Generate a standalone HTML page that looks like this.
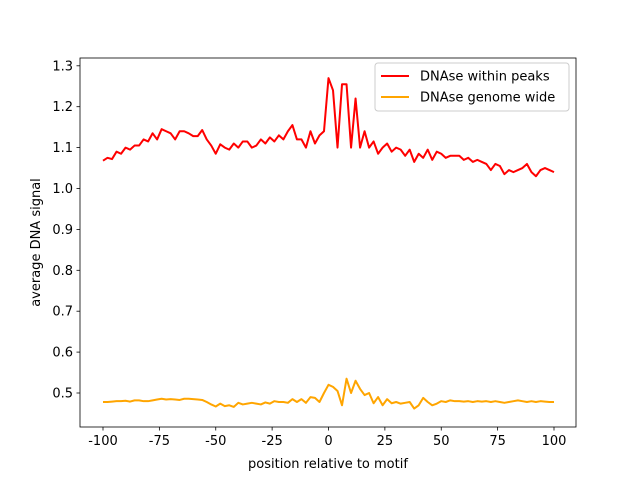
<!DOCTYPE html>
<html><head><meta charset="utf-8"><style>
body{margin:0;background:#fff}
svg{display:block;font-family:"DejaVu Sans","Liberation Sans",sans-serif}
</style></head><body>
<svg id="chart" width="640" height="480">
<rect x="80" y="58" width="496" height="369" fill="none" stroke="#000" stroke-width="0.8"/>
<g id="xt"></g><g id="yt"></g><g id="series"></g>
<text x="328" y="468" font-size="13" text-anchor="middle">position relative to motif</text>
<text transform="translate(40,242.5) rotate(-90)" font-size="13" text-anchor="middle">average DNA signal</text>
<g>
<rect x="375" y="63" width="194" height="48" rx="3" fill="#fff" fill-opacity="0.8" stroke="#ccc"/>
<line x1="381" y1="76" x2="409" y2="76" stroke="#ff0000" stroke-width="2"/>
<text x="420" y="80.5" font-size="13">DNAse within peaks</text>
<line x1="381" y1="97" x2="409" y2="97" stroke="#ffa500" stroke-width="2"/>
<text x="420" y="101.5" font-size="13">DNAse genome wide</text>
</g>
</svg>
<script>
const xTicks=[-100,-75,-50,-25,0,25,50,75,100];
const yTicks=[0.5,0.6,0.7,0.8,0.9,1.0,1.1,1.2,1.3];
const positions=[];for(let p=-100;p<=100;p+=2)positions.push(p);
const peaks=[1.068,1.075,1.072,1.09,1.085,1.10,1.095,1.105,1.105,1.12,1.115,1.135,1.12,1.145,1.14,1.135,1.12,1.14,1.14,1.135,1.128,1.128,1.143,1.12,1.105,1.085,1.108,1.10,1.095,1.11,1.10,1.115,1.115,1.10,1.105,1.12,1.11,1.125,1.115,1.13,1.12,1.14,1.155,1.12,1.12,1.10,1.14,1.11,1.13,1.14,1.27,1.24,1.10,1.255,1.255,1.10,1.22,1.10,1.14,1.10,1.115,1.085,1.10,1.11,1.09,1.10,1.095,1.08,1.095,1.065,1.085,1.075,1.095,1.07,1.09,1.085,1.075,1.08,1.08,1.08,1.07,1.075,1.065,1.07,1.065,1.06,1.045,1.06,1.055,1.035,1.045,1.04,1.045,1.05,1.06,1.04,1.03,1.045,1.05,1.045,1.04];
const genome=[.478,.478,.479,.48,.48,.481,.479,.482,.482,.48,.48,.482,.484,.486,.484,.485,.484,.483,.486,.486,.485,.484,.483,.478,.472,.467,.474,.468,.47,.466,.476,.472,.474,.476,.474,.472,.477,.474,.48,.478,.478,.476,.485,.478,.485,.476,.49,.488,.478,.50,.52,.515,.505,.47,.535,.50,.53,.51,.495,.50,.475,.49,.47,.485,.475,.478,.474,.476,.478,.462,.47,.488,.478,.47,.474,.48,.478,.482,.48,.48,.479,.48,.478,.48,.479,.48,.478,.48,.478,.476,.478,.48,.482,.48,.478,.48,.478,.48,.479,.478,.478];
const NS='http://www.w3.org/2000/svg';
const X=v=>103+(v+100)*(451/200);
const Y=v=>393-(v-0.5)*409;
function mk(t,a,p){const e=document.createElementNS(NS,t);for(const k in a)e.setAttribute(k,a[k]);p.appendChild(e);return e;}
const xt=document.getElementById('xt'),yt=document.getElementById('yt'),sg=document.getElementById('series');
xTicks.forEach(v=>{
 const l=mk('line',{x1:X(v),x2:X(v),y1:427,y2:430.5,stroke:'#000','stroke-width':0.8},xt);
 
 
 const t=mk('text',{x:X(v),y:445,'font-size':13,'text-anchor':'middle'},xt);t.textContent=v;
 
 
});
yTicks.forEach(v=>{
 const l=mk('line',{x1:76.5,x2:80,y1:Y(v),y2:Y(v),stroke:'#000','stroke-width':0.8},yt);
 
 
 const t=mk('text',{x:73,y:Y(v)+4.5,'font-size':13,'text-anchor':'end'},yt);t.textContent=v.toFixed(1);
 
 
});
function line(d,c,n){
 const p=mk('polyline',{points:positions.map((x,i)=>X(x)+','+Y(d[i])).join(' '),fill:'none',stroke:c,'stroke-width':2,'stroke-linejoin':'round'},sg);
 
 
}
line(peaks,'#ff0000','series-within-peaks');
line(genome,'#ffa500','series-genome-wide');
</script>
</body></html>
